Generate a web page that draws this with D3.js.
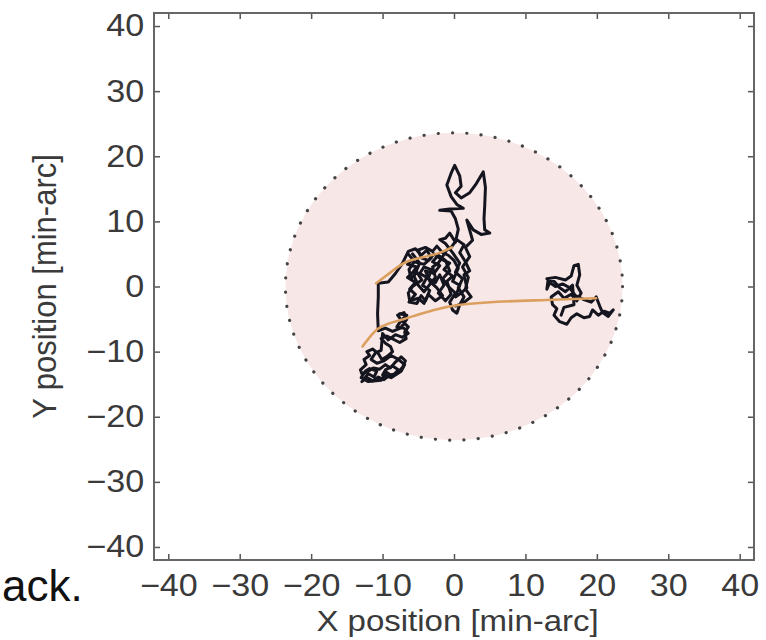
<!DOCTYPE html>
<html>
<head>
<meta charset="utf-8">
<script src="https://cdn.jsdelivr.net/npm/d3@7"></script>
<style>
  html, body { margin: 0; padding: 0; background: #ffffff; }
  svg { display: block; }
</style>
</head>
<body>
<svg id="chart" width="766" height="640"></svg>
<script>
// ---------------- data ----------------
const xDomain = [-42, 42];
const yDomain = [-42, 42];
const xTicks = [-40, -30, -20, -10, 0, 10, 20, 30, 40];
const yTicks = [-40, -30, -20, -10, 0, 10, 20, 30, 40];
const xLabel = "X position [min-arc]";
const yLabel = "Y position [min-arc]";
const captionFragment = "ack.";

// circular region (centre and radius in min-arc)
const regionCircle = [{ cx: 0, cy: 0, r: 23.6 }];

// black eye-position track, main part (lower-left cluster -> centre -> stem)
const trackMain = [
  [-12.9,-14.6],[-12.2,-14.0],[-11.4,-14.5],[-10.6,-13.9],[-9.8,-14.3],[-9.0,-13.6],[-8.0,-13.4],
  [-7.2,-12.4],[-6.8,-11.4],[-7.4,-10.8],[-8.2,-11.6],[-8.9,-12.5],[-9.6,-12.0],[-10.4,-12.7],
  [-11.3,-12.5],[-12.1,-13.1],[-12.9,-13.4],[-13.1,-12.8],[-12.3,-12.0],[-12.6,-11.2],[-11.8,-10.6],
  [-12.2,-10.0],[-11.4,-9.6],[-10.6,-10.3],[-10.1,-11.2],[-9.3,-10.7],[-8.6,-10.0],[-8.9,-9.2],
  [-9.6,-8.7],[-10.2,-8.0],[-9.4,-7.6],[-8.5,-8.1],[-7.6,-8.6],[-6.7,-8.0],[-6.9,-7.0],[-6.4,-6.2],
  [-7.2,-5.4],[-7.9,-4.4],[-7.0,-4.0],[-6.6,-5.0],[-7.5,-6.4],[-8.6,-6.9],[-9.6,-6.4],[-10.6,-6.8],
  [-10.7,-4.2],[-10.6,-1.6],[-10.6,0.5],[-9.2,0.7],[-8.2,2.0],[-7.2,3.6],[-6.4,5.4],[-5.4,5.8],
  [-4.6,4.8],[-3.8,5.6],[-3.2,4.4],[-4.2,3.4],[-5.6,3.8],[-6.3,2.6],[-6.0,1.2],[-5.2,2.2],[-4.5,1.0],
  [-5.8,0.0],[-6.4,-1.0],[-6.2,-2.2],[-5.0,-1.8],[-4.2,-2.6],[-3.6,-1.2],[-2.6,-2.2],[-1.6,-1.4],
  [-2.4,-0.2],[-3.4,0.8],[-4.0,2.4],[-2.8,2.0],[-2.0,3.2],[-3.0,3.8],[-2.2,4.8],[-1.2,4.0],[-0.6,2.4],
  [-1.6,1.2],[-0.8,0.0],[0.2,-1.0],[-0.6,-2.4],[-0.2,-3.6],[0.4,-4.1],[0.8,-2.8],[1.4,-1.6],[0.6,-0.2],
  [1.2,1.2],[0.2,2.2],[0.8,3.6],[-0.2,5.2],[-1.2,6.6],[-2.0,7.2],[-1.2,7.4],[-0.6,8.2],[0.2,6.8],
  [0.6,8.8],[0.2,10.4],[-0.4,11.6],[-2.0,11.7],[-0.6,11.9],[1.3,12.0],[0.4,12.6],[-0.4,13.8],
  [-1.0,15.6],[-0.4,17.4],[0.1,18.6],[0.8,17.0],[1.0,15.4],[0.2,14.4],[1.0,13.6],[2.2,14.4],
  [3.0,15.6],[4.1,17.6],[4.4,15.2],[4.3,12.4],[4.2,10.4],[4.3,8.7],[5.0,8.2],[3.8,8.0],[2.7,8.7],
  [1.8,10.2],[2.6,7.1],[1.6,6.0],[2.2,4.6],[1.2,3.0],[2.0,1.4],[1.6,-0.4],[2.4,-1.6],[1.2,-2.6],[0.2,-3.0]
];

// extra scribble inside the dense central cluster
const trackCentre = [
  [-6.4,5.0],[-5.8,4.2],[-6.5,3.4],[-5.2,3.0],[-5.9,2.0],[-6.5,1.4],[-5.4,0.6],[-6.2,-0.4],[-5.4,-1.2],
  [-6.3,-2.4],[-5.2,-2.6],[-4.6,-1.4],[-4.0,-2.2],[-3.4,-0.6],[-4.4,0.2],[-3.8,1.4],[-4.8,2.0],
  [-4.2,3.0],[-3.2,2.6],[-3.6,1.2],[-2.6,0.6],[-2.0,1.8],[-1.4,0.2],[-2.2,-1.0],[-1.2,-2.2],
  [-0.4,-1.2],[-1.0,0.8],[-0.2,1.6],[-1.4,2.6],[-0.6,3.6],[-1.8,4.2],[-2.8,5.0],[-3.6,4.0],
  [-4.6,4.4],[-5.0,5.6],[-4.0,6.0],[-3.0,5.4],[-2.4,6.2],[-1.6,5.2],[-0.8,4.8],[0.0,4.0],[0.6,2.8],
  [-0.2,0.8],[0.8,0.2],[0.2,-1.6],[1.0,-1.0],[1.8,-0.2],[1.4,1.8],[2.2,2.4],[1.6,3.8],[0.8,5.2],
  [1.4,6.4],[0.4,7.2],[-0.4,6.0],[-1.0,5.6],[-2.2,3.6],[-3.0,3.0],[-2.6,1.4],[-4.2,-0.8],[-5.0,0.2],
  [-5.6,1.6],[-4.8,3.6],[-5.8,5.0]
];

// extra scribble inside the lower-left cluster
const trackLowerLeft = [
  [-12.6,-14.2],[-12.0,-13.4],[-11.2,-13.9],[-10.8,-13.0],[-11.8,-12.6],[-12.4,-13.0],[-13.0,-14.0],
  [-12.0,-14.6],[-10.2,-14.4],[-9.4,-13.2],[-8.6,-13.8],[-7.8,-12.8],[-8.6,-12.2],[-9.6,-12.8],
  [-10.0,-13.6],[-8.8,-14.0],[-7.4,-13.0],[-6.9,-12.0],[-7.8,-11.2],[-8.8,-10.6],[-9.8,-11.4],
  [-10.8,-11.8],[-11.6,-11.2],[-11.0,-10.2],[-10.2,-9.8],[-10.0,-7.2],[-9.2,-8.2],[-8.2,-7.4],
  [-7.2,-7.8],[-6.4,-7.2],[-7.0,-6.4],[-8.0,-6.2],[-7.4,-5.2],[-6.6,-4.4],[-7.6,-4.2]
];

// black eye-position track, right cluster
const trackRight = [
  [13.0,1.2],[14.2,1.4],[15.6,1.0],[16.4,1.6],[16.8,3.2],[17.4,3.4],[17.6,1.8],[17.2,0.2],[17.8,-1.0],
  [17.2,-2.2],[16.4,-1.2],[15.4,-1.8],[14.6,-0.8],[13.6,-1.6],[13.8,-2.8],[14.4,-3.4],[14.0,-4.4],
  [14.8,-5.4],[15.8,-5.8],[16.4,-4.8],[17.2,-4.2],[18.2,-4.8],[19.0,-4.6],[19.4,-3.6],[20.2,-4.4],
  [21.0,-3.8],[21.8,-4.1],[22.3,-3.6],[21.6,-4.6],[20.8,-4.0],[20.4,-3.0],[19.9,-1.6],[19.2,-2.4],
  [18.2,-2.0],[17.0,-1.4],[16.2,-0.2],[15.2,0.4],[14.2,0.0],[13.4,0.6],[13.0,-0.4],[13.2,1.2],
  [14.0,0.8],[14.8,-0.2],[15.6,-0.8],[16.6,0.2],[16.8,-2.8],[15.4,-3.2],[15.0,-4.4]
];

// orange smoothed paths
const orangeLower = [
  [-12.8,-9.2],[-11.5,-7.3],[-10.4,-6.1],[-8.0,-5.3],[-5.8,-4.6],[-3.0,-3.6],[0.3,-2.8],
  [5.9,-2.3],[12.9,-2.1],[19.9,-1.8]
];
const orangeUpper = [
  [-10.9,0.5],[-8.6,2.4],[-6.7,4.0],[-3.9,4.6],[-2.0,5.1],[-0.3,6.0]
];

// ---------------- layout ----------------
const plot = { left: 154, right: 754, top: 13, bottom: 560 };
const stretch = 1.1;
const fontFamily = "'Liberation Sans', Arial, Helvetica, sans-serif";
const textColor = "#3a3a3a";

const svg = d3.select("#chart");
svg.append("rect").attr("width", 766).attr("height", 640).attr("fill", "#ffffff");

const x = d3.scaleLinear().domain(xDomain).range([plot.left, plot.right]);
const y = d3.scaleLinear().domain(yDomain).range([plot.bottom, plot.top]);

const g = svg.append("g");

// region circle
g.selectAll("ellipse.region").data(regionCircle).join("ellipse")
  .attr("class", "region")
  .attr("cx", d => x(d.cx))
  .attr("cy", d => y(d.cy))
  .attr("rx", d => x(d.cx + d.r) - x(d.cx))
  .attr("ry", d => y(d.cy) - y(d.cy + d.r))
  .attr("fill", "#f8e7e7")
  .attr("stroke", "#444")
  .attr("stroke-width", 3.2)
  .attr("stroke-linecap", "round")
  .attr("stroke-dasharray", "0.1 14.2");

const line = d3.line().x(d => x(d[0])).y(d => y(d[1]));
const smooth = d3.line().x(d => x(d[0])).y(d => y(d[1])).curve(d3.curveBasis);

[trackLowerLeft, trackCentre, trackMain, trackRight].forEach(tr => {
  g.append("path").datum(tr)
    .attr("d", line)
    .attr("fill", "none")
    .attr("stroke", "#15151f")
    .attr("stroke-width", 3)
    .attr("stroke-linejoin", "round")
    .attr("stroke-linecap", "round");
});

[orangeLower, orangeUpper].forEach(tr => {
  g.append("path").datum(tr)
    .attr("d", smooth)
    .attr("fill", "none")
    .attr("stroke", "#dba060")
    .attr("stroke-width", 2.6)
    .attr("stroke-linecap", "round");
});

// axes
function styleAxis(sel) {
  sel.select(".domain").remove();
  sel.selectAll(".tick line").attr("stroke", "#555").attr("stroke-width", 1.5);
  sel.selectAll(".tick text")
    .attr("fill", textColor)
    .style("font-family", fontFamily)
    .style("font-size", "31px");
}
const fmt = d => d < 0 ? "\u2212" + Math.abs(d) : d;

const axB = svg.append("g").attr("transform", `translate(0,${plot.bottom})`)
  .call(d3.axisBottom(x).tickValues(xTicks).tickSizeInner(-6).tickSizeOuter(0).tickPadding(14).tickFormat(fmt));
styleAxis(axB);
axB.selectAll(".tick text").attr("transform", `scale(${stretch},1)`);

const axL = svg.append("g").attr("transform", `translate(${plot.left},0)`)
  .call(d3.axisLeft(y).tickValues(yTicks).tickSizeInner(-6).tickSizeOuter(0).tickPadding(9).tickFormat(fmt));
styleAxis(axL);
axL.selectAll(".tick text").attr("transform", `scale(${stretch},1)`);

const axT = svg.append("g").attr("transform", `translate(0,${plot.top})`)
  .call(d3.axisTop(x).tickValues(xTicks).tickSizeInner(-6).tickSizeOuter(0).tickFormat(""));
styleAxis(axT);
const axR = svg.append("g").attr("transform", `translate(${plot.right},0)`)
  .call(d3.axisRight(y).tickValues(yTicks).tickSizeInner(-6).tickSizeOuter(0).tickFormat(""));
styleAxis(axR);

// box
svg.append("rect")
  .attr("x", plot.left).attr("y", plot.top)
  .attr("width", plot.right - plot.left).attr("height", plot.bottom - plot.top)
  .attr("fill", "none").attr("stroke", "#666").attr("stroke-width", 2);

// axis titles
svg.append("text")
  .attr("transform", `translate(${x(0.5)},631) scale(${stretch},1)`)
  .attr("text-anchor", "middle")
  .attr("fill", textColor)
  .style("font-family", fontFamily)
  .style("font-size", "30px")
  .text(xLabel);

svg.append("text")
  .attr("transform", `translate(56,${y(0)}) rotate(-90) scale(1,${stretch})`)
  .attr("text-anchor", "middle")
  .attr("fill", textColor)
  .style("font-family", fontFamily)
  .style("font-size", "31px")
  .text(yLabel);

// caption fragment
svg.append("text")
  .attr("x", 2).attr("y", 601)
  .attr("fill", "#111")
  .style("font-family", fontFamily)
  .style("font-size", "44px")
  .text(captionFragment);
</script>
</body>
</html>
